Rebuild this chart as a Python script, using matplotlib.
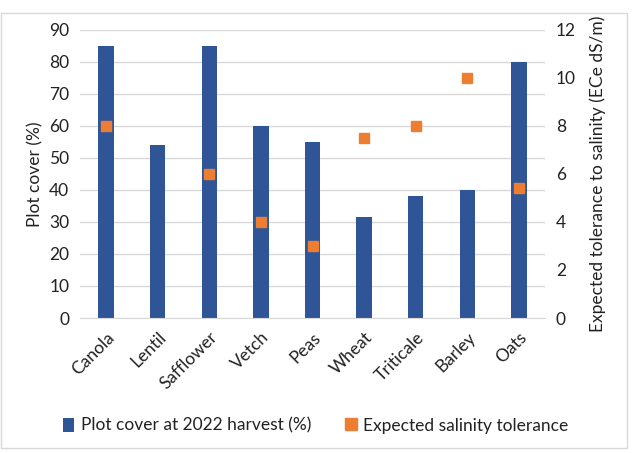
import numpy as np
import matplotlib.pyplot as plt
from matplotlib.patches import Rectangle

plt.rcParams['font.family'] = ['Lato', 'DejaVu Sans']

crops = ['Canola', 'Lentil', 'Safflower', 'Vetch', 'Peas', 'Wheat', 'Triticale', 'Barley', 'Oats']
cover = [85, 54, 85, 60, 55, 31.5, 38, 40, 80]
# Lentil has no salinity tolerance value
tolerance = [8, np.nan, 6, 4, 3, 7.5, 8, 10, 5.4]

blue = '#2F5597'
orange = '#ED7D31'
grid_col = '#D9D9D9'
text_col = '#222222'
fs = 12.5

fig = plt.figure(figsize=(6.32, 4.53), dpi=100)
ax = fig.add_axes([0.127, 0.298, 0.735, 0.636])
ax2 = ax.twinx()

x = np.arange(len(crops))
ax.bar(x, cover, width=0.3, color=blue, zorder=2, label='Plot cover at 2022 harvest (%)')
ax2.plot(x, tolerance, linestyle='none', marker='s', markersize=7.5, color=orange,
         label='Expected salinity tolerance')

ax.set_xlim(-0.5, len(crops) - 0.5)
ax.set_ylim(0, 90)
ax.set_yticks(range(0, 91, 10))
ax2.set_ylim(0, 12)
ax2.set_yticks(range(0, 13, 2))

ax.grid(axis='y', color=grid_col, linewidth=1, zorder=0)
ax.set_axisbelow(True)
for a in (ax, ax2):
    for s in a.spines.values():
        s.set_visible(False)
    a.tick_params(length=0, labelsize=fs, colors=text_col)
ax.spines['bottom'].set_visible(True)
ax.spines['bottom'].set_color(grid_col)

ax.set_xticks(x)
ax.set_xticklabels(crops, rotation=45, ha='right', rotation_mode='anchor')
ax.tick_params(axis='x', pad=8)
ax.tick_params(axis='y', pad=8)
ax2.tick_params(axis='y', pad=8)

ax.set_ylabel('Plot cover (%)', fontsize=fs, color=text_col, labelpad=4)
ax2.set_ylabel('Expected tolerance to salinity (ECe dS/m)', fontsize=fs, color=text_col, labelpad=10)

h1, l1 = ax.get_legend_handles_labels()
h2, l2 = ax2.get_legend_handles_labels()
fig.legend(h1 + h2, l1 + l2, loc='center', bbox_to_anchor=(0.5, 0.06), ncol=2,
           frameon=False, fontsize=fs, handlelength=0.6, handleheight=0.9,
           columnspacing=2.0, handletextpad=0.4, labelcolor=text_col, markerscale=1.1)

# light frame around the chart
fig.patches.append(Rectangle((0.002, 0.012), 0.99, 0.96, transform=fig.transFigure,
                             fill=False, edgecolor='#D9D9D9', linewidth=1))

fig.savefig('out.png', dpi=100)
